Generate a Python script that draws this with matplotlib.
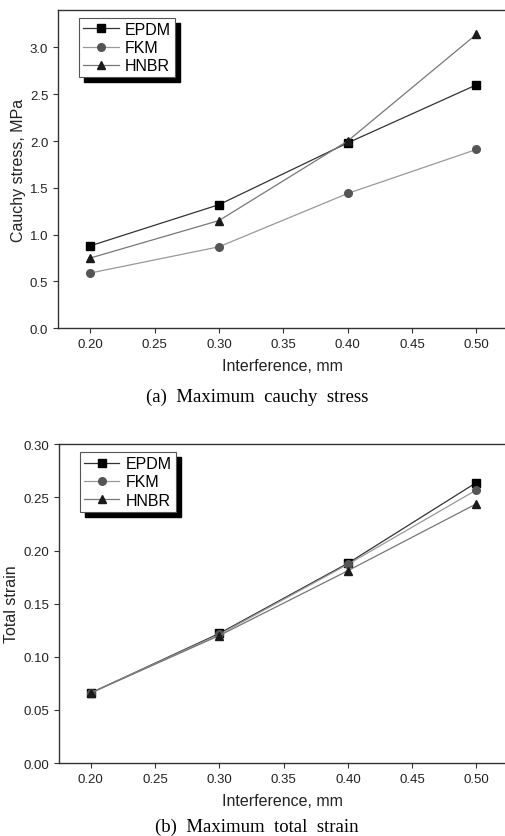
import numpy as np
import matplotlib.pyplot as plt
from matplotlib.patches import Rectangle

# data
interference = [0.20, 0.30, 0.40, 0.50]

stress_epdm = [0.88, 1.32, 1.98, 2.60]
stress_fkm = [0.59, 0.87, 1.44, 1.91]
stress_hnbr = [0.75, 1.15, 2.00, 3.14]

strain_epdm = [0.066, 0.122, 0.188, 0.264]
strain_fkm = [0.066, 0.121, 0.187, 0.257]
strain_hnbr = [0.066, 0.120, 0.181, 0.244]

xticks = [0.20, 0.25, 0.30, 0.35, 0.40, 0.45, 0.50]
stress_ticks = [0.0, 0.5, 1.0, 1.5, 2.0, 2.5, 3.0]
strain_ticks = [0.00, 0.05, 0.10, 0.15, 0.20, 0.25, 0.30]

plt.rcParams["font.family"] = ["Liberation Sans", "DejaVu Sans"]

fig = plt.figure(figsize=(5.06, 8.37), dpi=100)
ax1 = fig.add_axes([0.1146, 0.6066, 0.8854, 0.3803])
ax2 = fig.add_axes([0.1160, 0.0872, 0.8840, 0.3808])

styles = [
    ("EPDM", "s", "#000000", "#333333"),
    ("FKM", "o", "#555555", "#999999"),
    ("HNBR", "^", "#1a1a1a", "#777777"),
]


def draw(ax, series, yticks, ylim, ylabel, yfmt):
    for (name, mk, mc, lc), ys in zip(styles, series):
        ax.plot(interference, ys, color=lc, lw=0.9, marker=mk, ms=5.5,
                mfc=mc, mec=mc, label=name)
    ax.set_xlim(0.175, 0.523)
    ax.set_ylim(*ylim)
    ax.set_xticks(xticks)
    ax.set_xticklabels([f"{t:.2f}" for t in xticks])
    ax.set_yticks(yticks)
    ax.set_yticklabels([yfmt.format(t) for t in yticks])
    ax.spines["right"].set_visible(False)
    for s in ["left", "top", "bottom"]:
        ax.spines[s].set_color("#333333")
        ax.spines[s].set_linewidth(1.0)
    ax.tick_params(direction="out", length=3.5, width=0.8, colors="#333333",
                   labelsize=9.5, labelcolor="#222222")
    ax.set_xlabel("Interference, mm", fontsize=11.5, color="#222222", labelpad=6)
    ax.set_ylabel(ylabel, fontsize=11.5, color="#222222", labelpad=3)
    leg = ax.legend(loc="upper left", bbox_to_anchor=(0.048, 0.975),
                    fontsize=11.5, frameon=True, fancybox=False, framealpha=1,
                    handlelength=2.2, handletextpad=0.4, labelspacing=0.2,
                    borderpad=0.25, borderaxespad=0)
    leg.get_frame().set_edgecolor("#555555")
    leg.get_frame().set_linewidth(0.8)
    return leg


leg1 = draw(ax1, [stress_epdm, stress_fkm, stress_hnbr], stress_ticks,
            (0, 3.4), "Cauchy stress, MPa", "{:.1f}")
leg2 = draw(ax2, [strain_epdm, strain_fkm, strain_hnbr], strain_ticks,
            (0, 0.30), "Total strain", "{:.2f}")

# black drop shadow behind the legends
fig.canvas.draw()
for ax, leg in ((ax1, leg1), (ax2, leg2)):
    bb = leg.get_window_extent().transformed(fig.transFigure.inverted())
    dx, dy = 5 / 506, 5 / 837
    ax.add_patch(Rectangle((bb.x0 + dx, bb.y0 - dy), bb.width, bb.height,
                           transform=fig.transFigure, color="black",
                           zorder=4, clip_on=False))
    leg.set_zorder(10)

fig.text(0.508, 0.525, "(a)  Maximum  cauchy  stress", ha="center", va="center",
         family="Liberation Serif", fontsize=13.5)
fig.text(0.508, 0.012, "(b)  Maximum  total  strain", ha="center", va="center",
         family="Liberation Serif", fontsize=13.5)

fig.savefig("out.png", dpi=100)
